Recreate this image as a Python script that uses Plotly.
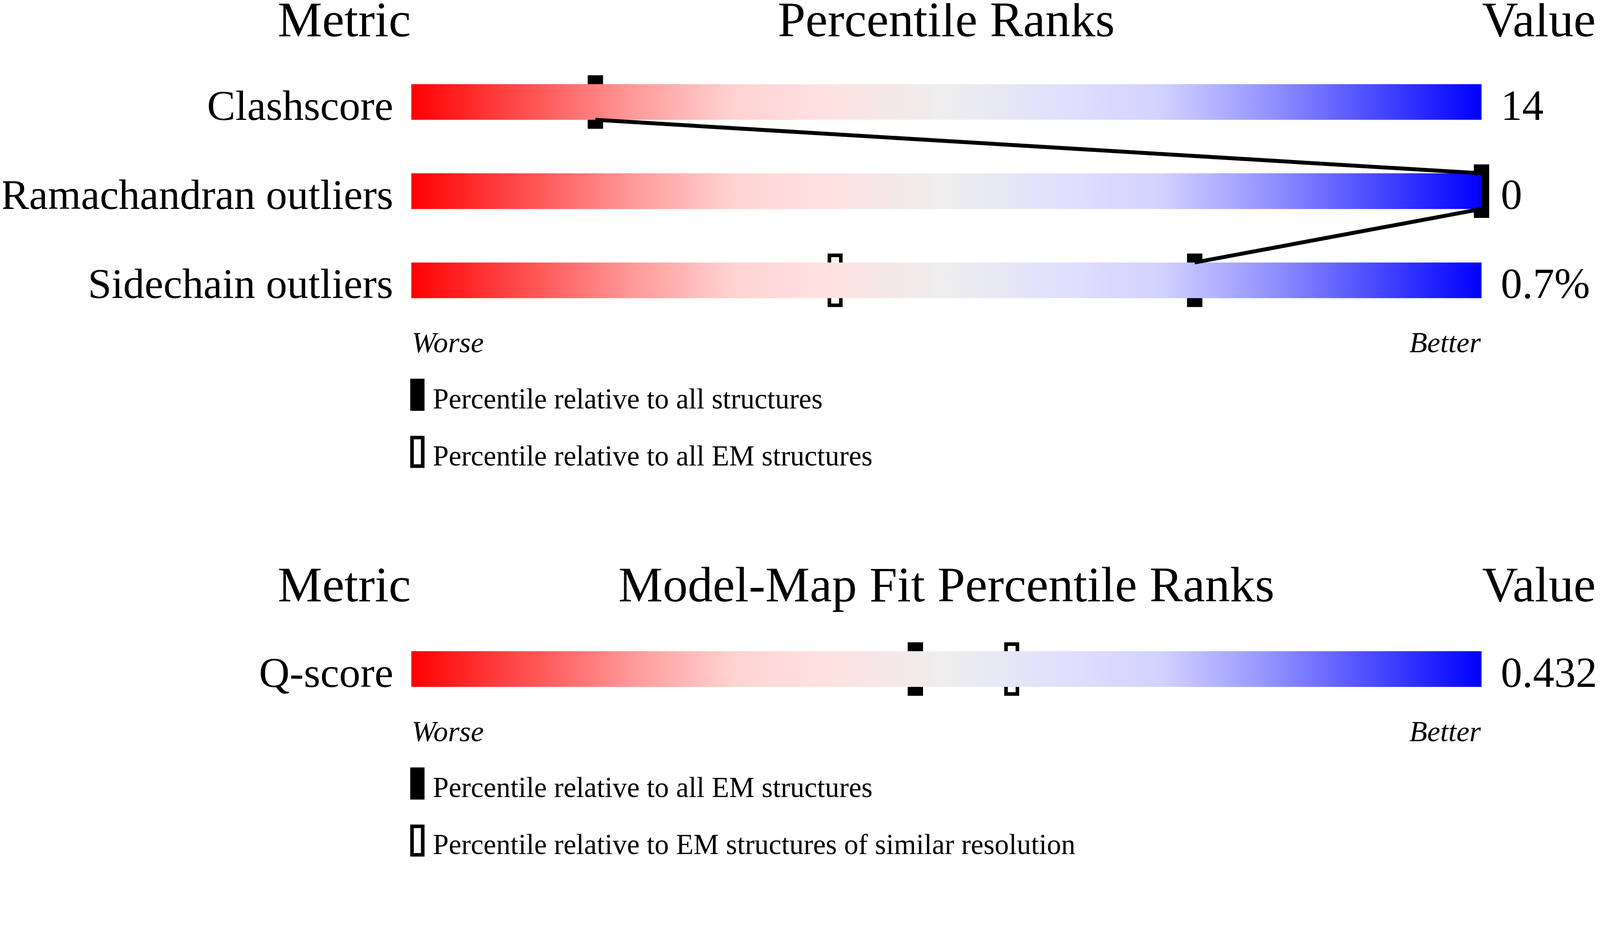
import numpy as np
import plotly.graph_objects as go

# --- data -------------------------------------------------------------
geometry_metrics = ["Clashscore", "Ramachandran outliers", "Sidechain outliers"]
geometry_values = ["14", "0", "0.7%"]
geometry_pct_all = [17.2, 100, 73.2]      # percentile vs all structures
geometry_pct_em = [None, None, 39.6]      # percentile vs all EM structures

fit_metrics = ["Q-score"]
fit_values = ["0.432"]
fit_pct_all_em = [47.1]                   # percentile vs all EM structures
fit_pct_similar = [56.1]                  # percentile vs EM structures of similar resolution

geometry_legend = ["Percentile relative to all structures",
                   "Percentile relative to all EM structures"]
fit_legend = ["Percentile relative to all EM structures",
              "Percentile relative to EM structures of similar resolution"]

# --- layout constants (screen pixels of the 4485x2402 shot) -----------
W, H = 4485, 2402
F = 1.095                    # viewer zoom, css px -> screen px
M = 8                        # default body margin in css px
FIG_W = int(W / F - 2 * M - 4)
FIG_H = int(H / F - M + 4)
BAR_LEFT = 1153
PX_PER_PCT = 30.0
BAR_H = 100
MARK_H = 150
FONT = "Liberation Serif, Times New Roman, serif"

geo_rows = [286, 536, 786]
fit_rows = [1876]

GRADIENT = [[0.0, "#ff0000"], [0.1, "#ff4a4a"], [0.2, "#ff9494"], [0.3, "#ffd2d2"],
            [0.38, "#ffe0e0"], [0.5, "#eeeeee"], [0.62, "#dedeff"], [0.7, "#d2d2ff"],
            [0.8, "#9494ff"], [0.9, "#4a4aff"], [1.0, "#0000ff"]]


def px(p):
    return (p - BAR_LEFT) / PX_PER_PCT


fig = go.Figure()
annotations = []
shapes = []


def text(x, y, s, size, anchor, italic=False):
    annotations.append(dict(
        x=x, y=y, xref="x", yref="y", text=s, showarrow=False,
        xanchor=anchor, yanchor="middle", borderpad=0,
        font=dict(family=FONT, size=size / F, color="black",
                  style="italic" if italic else "normal")))


def slider_section(metrics, values, pct_a, pct_b, rows, title, header_base, worse_base, legend_texts, legend_tops):
    # gradient bars
    for r in rows:
        top, bot = r - BAR_H / 2, r + BAR_H / 2
        fig.add_trace(go.Scatter(
            x=[0, 100, 100, 0, 0], y=[top, top, bot, bot, top],
            mode="lines", line=dict(width=0), fill="toself",
            fillgradient=dict(type="horizontal", colorscale=GRADIENT),
            hoverinfo="skip", showlegend=False))
    # connecting line through the filled markers
    lx, ly = [], []
    for i in range(len(rows) - 1):
        if pct_a[i] is None or pct_a[i + 1] is None:
            continue
        lx += [pct_a[i], pct_a[i + 1], None]
        ly += [rows[i] + BAR_H / 2, rows[i + 1] - BAR_H / 2, None]
    if lx:
        fig.add_trace(go.Scatter(x=lx, y=ly, mode="lines", line=dict(color="black", width=11 / F),
                                 hoverinfo="skip", showlegend=False))
    # open markers
    ox = [p for p in pct_b if p is not None]
    oy = [rows[i] - (MARK_H - 10) / 2 for i, p in enumerate(pct_b) if p is not None]
    if ox:
        fig.add_trace(go.Bar(x=ox, y=[MARK_H - 10] * len(ox), base=oy, width=32 / PX_PER_PCT,
                             marker=dict(color="white", line=dict(color="black", width=10 / F)),
                             showlegend=False))
    # filled markers
    fx = [p for p in pct_a if p is not None]
    fy = [rows[i] - MARK_H / 2 for i, p in enumerate(pct_a) if p is not None]
    fig.add_trace(go.Bar(x=fx, y=[MARK_H] * len(fx), base=fy, width=43 / PX_PER_PCT,
                         marker=dict(color="black", line=dict(width=0)), showlegend=False))

    # headers
    hy = header_base - 0.3375 * 140
    text(0, hy, "Metric", 140, "right")
    text(50, hy, title, 140, "center")
    text(100, hy, "Value", 140, "left")
    # row labels and values
    for name, val, r in zip(metrics, values, rows):
        base = r + BAR_H / 2
        text(px(1104), base - 0.3375 * 119, name, 119, "right")
        text(px(4206), base - 0.3375 * 120, val, 120, "left")
    # worse / better
    wy = worse_base - 0.3375 * 82
    text(0, wy, "Worse", 82, "left", italic=True)
    text(100, wy, "Better", 82, "right", italic=True)
    # legend
    for k, (lt, top) in enumerate(zip(legend_texts, legend_tops)):
        if k == 0:
            shapes.append(dict(type="rect", xref="x", yref="y", x0=px(1150), x1=px(1190),
                               y0=top, y1=top + 90, fillcolor="black", line=dict(width=0)))
        else:
            shapes.append(dict(type="rect", xref="x", yref="y", x0=px(1155), x1=px(1185),
                               y0=top + 5, y1=top + 85, fillcolor="white",
                               line=dict(color="black", width=10 / F)))
        text(px(1212), top + 83 - 0.3375 * 80, lt, 80, "left")


slider_section(geometry_metrics, geometry_values, geometry_pct_all, geometry_pct_em,
               geo_rows, "Percentile Ranks", 102, 987, geometry_legend, [1062, 1222])
slider_section(fit_metrics, fit_values, fit_pct_all_em, fit_pct_similar,
               fit_rows, "Model-Map Fit Percentile Ranks", 1687, 2078, fit_legend, [2152, 2312])

x_lo, x_hi = F * M, F * (M + FIG_W)
y_lo, y_hi = F * M, F * (M + FIG_H)

fig.update_layout(
    width=FIG_W, height=FIG_H, autosize=False,
    margin=dict(l=0, r=0, t=0, b=0),
    paper_bgcolor="white", plot_bgcolor="white",
    barmode="overlay", showlegend=False,
    xaxis=dict(range=[px(x_lo), px(x_hi)], visible=False, fixedrange=True),
    yaxis=dict(range=[y_hi, y_lo], visible=False, fixedrange=True),
    annotations=annotations, shapes=shapes,
)

fig.write_html("out.html")
